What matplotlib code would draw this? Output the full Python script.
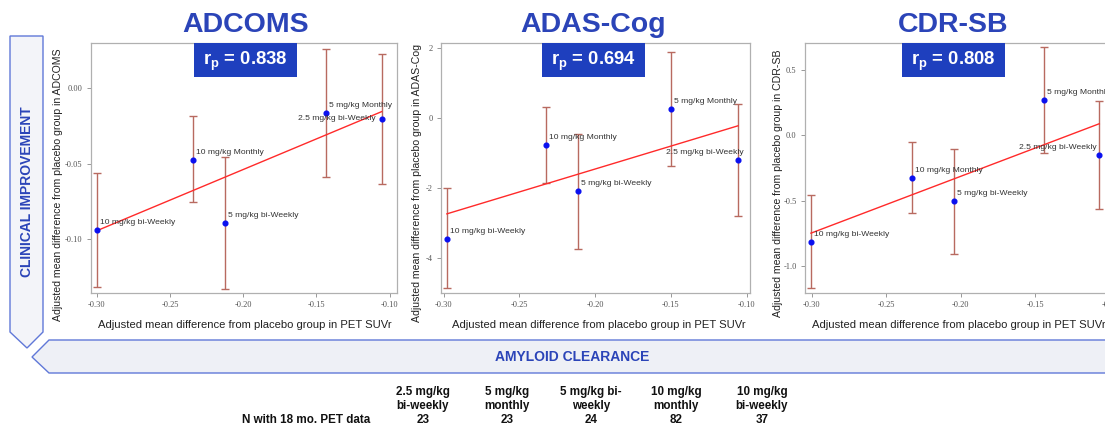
import numpy as np
import matplotlib
matplotlib.use("Agg")
import matplotlib.pyplot as plt
from matplotlib import font_manager
from matplotlib.patches import Polygon, Rectangle

# ---------------- data ----------------
groups = ["10 mg/kg bi-Weekly", "10 mg/kg Monthly", "5 mg/kg bi-Weekly",
          "5 mg/kg Monthly", "2.5 mg/kg bi-Weekly"]

adcoms_x = [-0.3000, -0.2345, -0.2123, -0.1434, -0.1055]
adcoms_y = [-0.0941, -0.0472, -0.0893, -0.0161, -0.0205]
adcoms_lo = [-0.1314, -0.0753, -0.1327, -0.0589, -0.0632]
adcoms_hi = [-0.0564, -0.0181, -0.0457, 0.0262, 0.0225]

adas_x = [-0.2979, -0.2324, -0.2111, -0.1497, -0.1057]
adas_y = [-3.46, -0.77, -2.11, 0.25, -1.21]
adas_lo = [-4.86, -1.86, -3.76, -1.37, -2.81]
adas_hi = [-2.02, 0.29, -0.46, 1.86, 0.40]

cdr_x = [-0.3005, -0.2329, -0.2043, -0.1446, -0.1072]
cdr_y = [-0.813, -0.323, -0.505, 0.269, -0.148]
cdr_lo = [-1.167, -0.595, -0.910, -0.138, -0.564]
cdr_hi = [-0.456, -0.052, -0.108, 0.675, 0.264]

titles = ["ADCOMS", "ADAS-Cog", "CDR-SB"]
r_values = ["0.838", "0.694", "0.808"]
x_ticks = [-0.30, -0.25, -0.20, -0.15, -0.10]
y_ticks_adcoms = [0.00, -0.05, -0.10]
y_ticks_adas = [2, 0, -2, -4]
y_ticks_cdr = [0.5, 0.0, -0.5, -1.0]

dose_line1 = ["2.5 mg/kg", "5 mg/kg", "5 mg/kg bi-", "10 mg/kg", "10 mg/kg"]
dose_line2 = ["bi-weekly", "monthly", "weekly", "monthly", "bi-weekly"]
n_pet = [23, 23, 24, 82, 37]

# ---------------- fonts ----------------
def has_font(name):
    try:
        font_manager.findfont(font_manager.FontProperties(family=name),
                              fallback_to_default=False)
        return True
    except Exception:
        return False

SANS = "Liberation Sans"
NARROW = "Liberation Sans Narrow" if has_font("Liberation Sans Narrow") else "Liberation Sans"
SERIF = "Liberation Serif"
plt.rcParams["font.family"] = [SANS, "DejaVu Sans"]
plt.rcParams["mathtext.fontset"] = "custom"
plt.rcParams["mathtext.bf"] = "Liberation Sans:bold"
plt.rcParams["mathtext.rm"] = "Liberation Sans"

W, H = 1105, 424
fig = plt.figure(figsize=(W / 100, H / 100), dpi=100)
fig.patch.set_facecolor("white")

def fx(x):
    return x / W

def fy(y):
    return 1 - y / H

BLUE_T = "#2B44B8"
BOX = "#1E3FBE"
ERR = "#B86A60"

# ---------------- panels ----------------
panels = [
    dict(x=adcoms_x, y=adcoms_y, lo=adcoms_lo, hi=adcoms_hi, yt=y_ticks_adcoms,
         yfmt="{:.2f}", xlim=(-0.304, -0.095), ylim=(-0.1356, 0.030),
         px=(91, 397), ylab_x=58, ylab_y=185, lab25=(-6, 1), cx=245.5, xlab_cx=245),
    dict(x=adas_x, y=adas_y, lo=adas_lo, hi=adas_hi, yt=y_ticks_adas,
         yfmt="{:.0f}", xlim=(-0.3018, -0.0978), ylim=(-5.01, 2.13),
         px=(441, 750), ylab_x=417, ylab_y=183, lab25=(6, 7), cx=593.5, xlab_cx=599),
    dict(x=cdr_x, y=cdr_y, lo=cdr_lo, hi=cdr_hi, yt=y_ticks_cdr,
         yfmt="{:.1f}", xlim=(-0.3045, -0.096), ylim=(-1.205, 0.705),
         px=(805, 1116), ylab_x=778, ylab_y=183, lab25=(-3, 7), cx=953.5, xlab_cx=959),
]
top, bot = 43, 293
px2pt = 0.72

for i, p in enumerate(panels):
    l, r = p["px"]
    ax = fig.add_axes([fx(l), fy(bot), (r - l) / W, (bot - top) / H])
    x = np.array(p["x"]); y = np.array(p["y"])
    lo = np.array(p["lo"]); hi = np.array(p["hi"])
    ax.errorbar(x, y, yerr=[y - lo, hi - y], fmt="none", ecolor=ERR,
                elinewidth=1.0, capsize=2.8, capthick=1.0, zorder=2)
    slope, icpt = np.polyfit(x, y, 1)
    xs = np.array([x.min(), x.max()])
    ax.plot(xs, slope * xs + icpt, color="#FF2A2A", lw=1.0, zorder=3)
    ax.plot(x, y, "o", color="#0A10F0", ms=3.4, zorder=4)
    for j, g in enumerate(groups):
        if g.startswith("2.5"):
            ox, oy = p["lab25"]
            ax.annotate(g, (x[j], y[j]), xytext=(ox * px2pt, oy * px2pt),
                        textcoords="offset points", ha="right", va="center",
                        fontsize=6.1, color="#333333", zorder=5)
        else:
            ax.annotate(g, (x[j], y[j]), xytext=(3 * px2pt, 7.5 * px2pt),
                        textcoords="offset points", ha="left", va="center",
                        fontsize=6.1, color="#333333", zorder=5)
    ax.set_xlim(*p["xlim"]); ax.set_ylim(*p["ylim"])
    ax.set_xticks(x_ticks)
    ax.set_xticklabels(["{:.2f}".format(v) for v in x_ticks])
    ax.set_yticks(p["yt"])
    ax.set_yticklabels([p["yfmt"].format(v) for v in p["yt"]])
    for lab in ax.get_xticklabels() + ax.get_yticklabels():
        lab.set_fontfamily(SERIF); lab.set_fontsize(6.0); lab.set_color("#555555")
    ax.tick_params(length=3, width=0.6, color="#888888", pad=3)
    for s in ax.spines.values():
        s.set_color("#B0B0B0"); s.set_linewidth(0.9)
    bx = p["cx"]
    fig.text(fx(bx), fy(25), titles[i], ha="center", va="center",
             fontsize=20.5, fontweight="bold", color=BLUE_T)
    fig.patches.append(Rectangle((fx(bx - 51.5), fy(77)), 103 / W, 34 / H,
                                 transform=fig.transFigure, facecolor=BOX,
                                 edgecolor="none", zorder=10))
    fig.text(fx(bx), fy(61), r"r$_{\mathbf{p}}$ = " + r_values[i], ha="center",
             va="center", fontsize=13.3, fontweight="bold", color="white",
             zorder=11)
    fig.text(fx(p["ylab_x"]), fy(p["ylab_y"]),
             "Adjusted mean difference from placebo group in " + titles[i],
             rotation=90, ha="center", va="center", fontsize=7.6, color="#222222")
    fig.text(fx(p["xlab_cx"]), fy(325),
             "Adjusted mean difference from placebo group in PET SUVr",
             ha="center", va="center", fontsize=8.1, color="#222222")

# ---------------- arrows ----------------
left_arrow = Polygon([(fx(10), fy(36)), (fx(43), fy(36)), (fx(43), fy(332)),
                      (fx(27), fy(348)), (fx(10), fy(332))], closed=True,
                     transform=fig.transFigure, facecolor="#F3F4F9",
                     edgecolor="#6078D8", lw=1.0, zorder=1)
fig.patches.append(left_arrow)
fig.text(fx(27), fy(192), "CLINICAL IMPROVEMENT", rotation=90, ha="center",
         va="center", fontsize=10, fontweight="bold", color=BLUE_T,
         family=[NARROW, "DejaVu Sans"])

bottom_arrow = Polygon([(fx(49), fy(340)), (fx(1110), fy(340)), (fx(1110), fy(373)),
                        (fx(49), fy(373)), (fx(32), fy(357))], closed=True,
                       transform=fig.transFigure, facecolor="#EEF0F6",
                       edgecolor="#6078D8", lw=1.0, zorder=1)
fig.patches.append(bottom_arrow)
fig.text(fx(572), fy(357), "AMYLOID CLEARANCE", ha="center", va="center",
         fontsize=10, fontweight="bold", color=BLUE_T,
         family=[NARROW, "DejaVu Sans"])

# ---------------- table ----------------
col_x = [423, 507, 591, 676, 762]
for cxp, l1, l2, n in zip(col_x, dose_line1, dose_line2, n_pet):
    for yy, t in ((392, l1), (406, l2), (420, str(n))):
        fig.text(fx(cxp), fy(yy), t, ha="center", va="center", fontsize=8.4,
                 fontweight="bold", color="#111111")
fig.text(fx(370), fy(420), "N with 18 mo. PET data", ha="right", va="center",
         fontsize=8.4, fontweight="bold", color="#111111")

fig.savefig("out.png", dpi=100, facecolor="white")
